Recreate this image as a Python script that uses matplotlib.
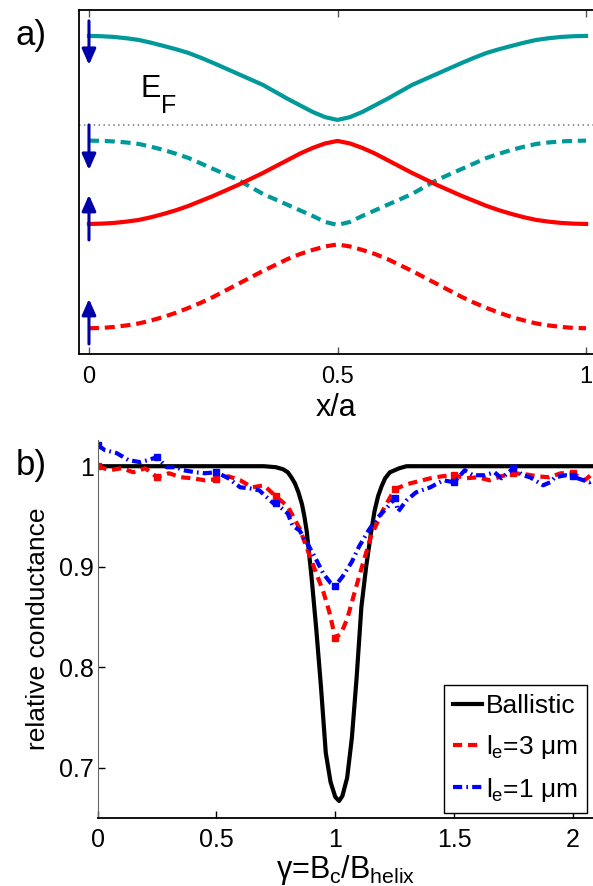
import numpy as np
import matplotlib
matplotlib.use('Agg')
import matplotlib.pyplot as plt

plt.rcParams['font.family'] = ['Liberation Sans', 'DejaVu Sans']
plt.rcParams['mathtext.fontset'] = 'custom'
plt.rcParams['mathtext.rm'] = 'Liberation Sans'
plt.rcParams['mathtext.it'] = 'Liberation Sans'
plt.rcParams['mathtext.bf'] = 'Liberation Sans:bold'

# ---- panel a: bands along x/a (energy, E_F = 0) ----
xa = [0, 0.025, 0.05, 0.075, 0.1, 0.125, 0.15, 0.175, 0.2, 0.225, 0.25, 0.275, 0.3, 0.325,
      0.35, 0.375, 0.4, 0.425, 0.45, 0.475, 0.5, 0.525, 0.55, 0.575, 0.6, 0.625, 0.65, 0.675,
      0.7, 0.725, 0.75, 0.775, 0.8, 0.825, 0.85, 0.875, 0.9, 0.925, 0.95, 0.975, 1.0]
cyan_solid = [0.89, 0.887, 0.88, 0.867, 0.85, 0.822, 0.79, 0.757, 0.72, 0.672, 0.62, 0.565,
              0.51, 0.455, 0.40, 0.33, 0.26, 0.195, 0.13, 0.078, 0.05, 0.078, 0.13, 0.195,
              0.26, 0.33, 0.40, 0.455, 0.51, 0.565, 0.62, 0.672, 0.72, 0.757, 0.79, 0.822,
              0.85, 0.867, 0.88, 0.887, 0.89]
cyan_dash = [-0.157, -0.159, -0.165, -0.175, -0.19, -0.218, -0.25, -0.288, -0.33, -0.385,
             -0.44, -0.495, -0.55, -0.62, -0.69, -0.745, -0.80, -0.855, -0.91, -0.97, -1.0,
             -0.97, -0.91, -0.855, -0.80, -0.745, -0.69, -0.62, -0.55, -0.495, -0.44, -0.385,
             -0.33, -0.288, -0.25, -0.218, -0.19, -0.175, -0.165, -0.159, -0.157]
red_solid = [-0.99, -0.987, -0.98, -0.967, -0.95, -0.923, -0.89, -0.853, -0.81, -0.76, -0.71,
             -0.655, -0.60, -0.54, -0.48, -0.415, -0.35, -0.285, -0.23, -0.185, -0.16, -0.185,
             -0.23, -0.285, -0.35, -0.415, -0.48, -0.54, -0.60, -0.655, -0.71, -0.76, -0.81,
             -0.853, -0.89, -0.923, -0.95, -0.967, -0.98, -0.987, -0.99]
red_dash = [-2.033, -2.03, -2.02, -2.005, -1.985, -1.955, -1.92, -1.878, -1.83, -1.778, -1.72,
            -1.655, -1.59, -1.525, -1.46, -1.40, -1.34, -1.29, -1.25, -1.215, -1.195, -1.215,
            -1.25, -1.29, -1.34, -1.40, -1.46, -1.525, -1.59, -1.655, -1.72, -1.778, -1.83,
            -1.878, -1.92, -1.955, -1.985, -2.005, -2.02, -2.03, -2.033]

# spin arrows at x=0 (start, end energy)
arrow_start = [1.04, 0.0, -1.15, -2.19]
arrow_end = [0.60, -0.45, -0.70, -1.74]

# ---- panel b: relative conductance vs gamma ----
g_ball = [0, 0.5, 0.7, 0.75, 0.78, 0.8, 0.815, 0.83, 0.845, 0.86, 0.87, 0.88, 0.9, 0.92, 0.94,
          0.96, 0.98, 1.0, 1.016, 1.03, 1.05, 1.07, 1.09, 1.11, 1.13, 1.15, 1.165, 1.18, 1.195,
          1.21, 1.23, 1.25, 1.27, 1.3, 1.5, 2.09]
G_ball = [1.0, 1.0, 1.0, 0.999, 0.997, 0.994, 0.989, 0.983, 0.974, 0.962, 0.95, 0.935, 0.89,
          0.838, 0.78, 0.715, 0.686, 0.671, 0.667, 0.672, 0.69, 0.73, 0.79, 0.86, 0.90, 0.933,
          0.955, 0.97, 0.98, 0.988, 0.994, 0.996, 0.998, 1.0, 1.0, 1.0]

g_3um = [0.0, 0.05, 0.1, 0.15, 0.2, 0.25, 0.3, 0.35, 0.4, 0.45, 0.5, 0.55, 0.6, 0.65, 0.7, 0.75,
         0.8, 0.85, 0.9, 0.95, 0.975, 1.0, 1.025, 1.05, 1.1, 1.15, 1.2, 1.25, 1.3, 1.35, 1.4, 1.45,
         1.5, 1.55, 1.6, 1.65, 1.7, 1.75, 1.8, 1.85, 1.9, 1.95, 2.0, 2.05, 2.09]
G_3um = [1.0, 0.996, 0.998, 0.994, 0.998, 0.989, 0.993, 0.989, 0.988, 0.986, 0.987, 0.99, 0.986,
         0.979, 0.981, 0.970, 0.96, 0.938, 0.906, 0.875, 0.855, 0.829, 0.834, 0.848, 0.89, 0.93,
         0.956, 0.977, 0.982, 0.985, 0.988, 0.99, 0.991, 0.988, 0.989, 0.986, 0.99, 0.993, 0.992,
         0.99, 0.989, 0.993, 0.993, 0.986, 0.994]

g_1um = [0.0, 0.03, 0.08, 0.13, 0.18, 0.21, 0.25, 0.29, 0.33, 0.36, 0.41, 0.45, 0.5, 0.55, 0.6,
         0.64, 0.68, 0.74, 0.75, 0.8, 0.82, 0.85, 0.89, 0.92, 0.95, 0.98, 1.0, 1.03, 1.07, 1.1, 1.14,
         1.175, 1.215, 1.25, 1.265, 1.3, 1.34, 1.4, 1.455, 1.5, 1.545, 1.58, 1.63, 1.67, 1.7, 1.75,
         1.79, 1.82, 1.875, 1.905, 1.925, 1.97, 2.0, 2.02, 2.07, 2.09]
G_1um = [1.021, 1.016, 1.013, 1.006, 1.004, 1.006, 1.009, 0.999, 0.999, 0.996, 0.994, 0.993,
         0.994, 0.988, 0.979, 0.978, 0.976, 0.963, 0.963, 0.953, 0.941, 0.936, 0.92, 0.907, 0.893,
         0.884, 0.881, 0.89, 0.905, 0.92, 0.936, 0.948, 0.958, 0.968, 0.955, 0.966, 0.974, 0.979,
         0.986, 0.984, 0.996, 0.991, 0.991, 0.994, 0.988, 0.998, 0.991, 0.989, 0.981, 0.984, 0.989,
         0.991, 0.99, 0.988, 0.984, 0.986]

teal = '#009999'
arrow_col = '#0000aa'

fig = plt.figure(figsize=(5.93, 8.86), dpi=100)

# panel a
ax1 = fig.add_axes([0.1332, 0.6005, 0.8668, 0.3883])
ax1.plot(xa, cyan_solid, color=teal, lw=3)
ax1.plot(xa, cyan_dash, color=teal, lw=3, dashes=(2.4, 1.4))
ax1.plot(xa, red_solid, color='red', lw=3)
ax1.plot(xa, red_dash, color='red', lw=3, dashes=(2.4, 1.4))
ax1.axhline(0, color='#777777', lw=1.1, ls=(0, (1, 2.2)))
for s, e in zip(arrow_start, arrow_end):
    ax1.annotate('', xy=(0, e), xytext=(0, s),
                 arrowprops=dict(arrowstyle='-|>,head_length=0.95,head_width=0.42',
                                 color=arrow_col, lw=2.2, mutation_scale=10,
                                 shrinkA=0, shrinkB=0))
# E_F label: big E with a large, low subscript F
ax1.text(0.103, 0.28, 'E', fontsize=22, va='baseline')
ax1.text(0.145, 0.12, 'F', fontsize=18, va='baseline')
ax1.set_xlim(-0.0201, 1.014)
ax1.set_ylim(-2.29, 1.15)
ax1.set_xticks([0, 0.5, 1])
ax1.set_xticklabels(['0', '0.5', '1'])
ax1.set_yticks([])
ax1.tick_params(axis='x', direction='in', top=True, length=5, width=1, color='#555555',
                labelsize=17, pad=9)
ax1.spines['right'].set_visible(False)
for sp in ['left', 'top', 'bottom']:
    ax1.spines[sp].set_linewidth(1.3)
ax1.set_xlabel('x/a', fontsize=22, labelpad=3)

# panel b
ax2 = fig.add_axes([0.1648, 0.0767, 0.8352, 0.4266])
mk3 = [i for i, g in enumerate(g_3um) if abs(g / 0.25 - round(g / 0.25)) < 1e-9]
mk1 = [i for i, g in enumerate(g_1um) if abs(g / 0.25 - round(g / 0.25)) < 1e-9]
ax2.plot(g_ball, G_ball, color='black', lw=3, label='Ballistic')
ax2.plot(g_3um, G_3um, color='red', lw=3, dashes=(2.2, 1.4), marker='s', ms=5,
         markevery=mk3, label=r'$l_e$=3 μm')
ax2.plot(g_1um, G_1um, color='blue', lw=3, dashes=(2.2, 1.0, 0.4, 1.0), marker='s', ms=5,
         markevery=mk1, label=r'$l_e$=1 μm')
ax2.set_xlim(0, 2.085)
ax2.set_ylim(0.65, 1.026)
ax2.set_xticks([0, 0.5, 1, 1.5, 2])
ax2.set_xticklabels(['0', '0.5', '1', '1.5', '2'])
ax2.set_yticks([0.7, 0.8, 0.9, 1.0])
ax2.set_yticklabels(['0.7', '0.8', '0.9', '1'])
ax2.tick_params(direction='in', length=5, width=1, labelsize=18)
ax2.tick_params(axis='x', pad=7)
ax2.tick_params(axis='y', pad=3)
ax2.spines['right'].set_visible(False)
ax2.spines['top'].set_visible(False)
ax2.spines['left'].set_color('#666666')
ax2.spines['bottom'].set_linewidth(1.3)
ax2.set_xlabel(r'γ=$B_c$/$B_{helix}$', fontsize=22, labelpad=1)
ax2.set_ylabel('relative conductance', fontsize=19, labelpad=6)
leg = ax2.legend(loc='lower right', bbox_to_anchor=(0.987, 0.014), borderaxespad=0,
                 fontsize=19, handlelength=1.1, handletextpad=0.12, labelspacing=0.55,
                 borderpad=0.35, fancybox=False, framealpha=1, edgecolor='black')
leg.get_frame().set_linewidth(1)
for h in leg.get_lines():
    h.set_marker('')

fig.text(31 / 593, 1 - 35 / 886, 'a)', fontsize=25, ha='center', va='center')
fig.text(31 / 593, 1 - 466 / 886, 'b)', fontsize=25, ha='center', va='center')

fig.savefig('out.png', dpi=100)
